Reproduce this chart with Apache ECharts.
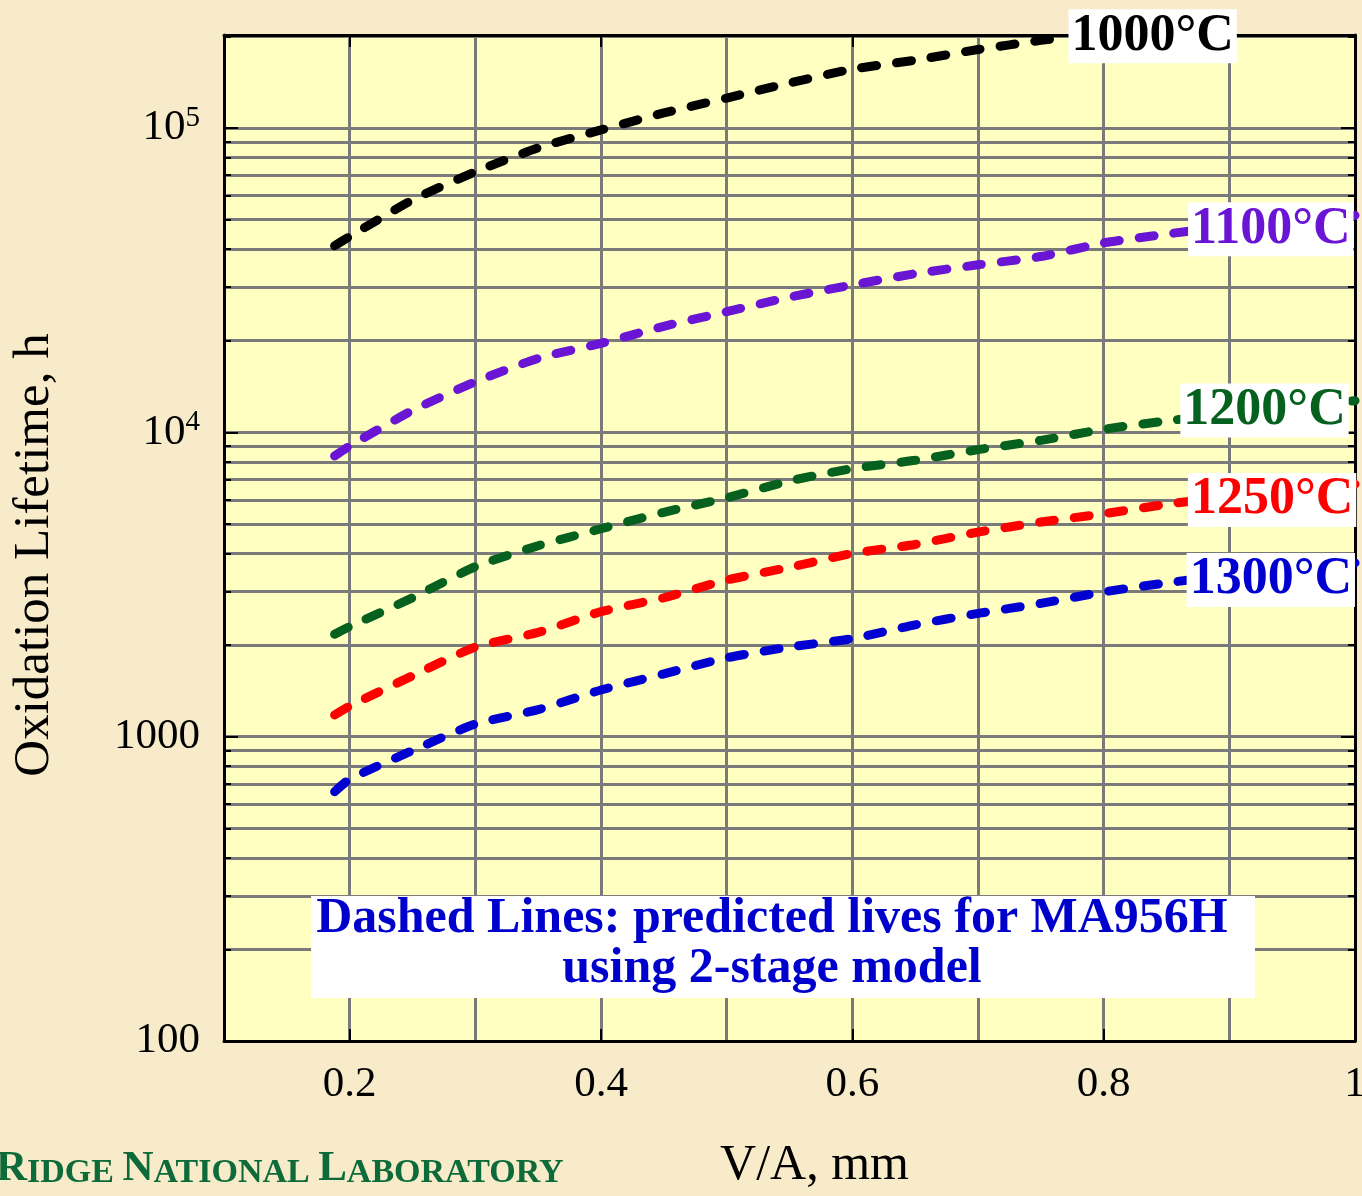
<!DOCTYPE html>
<html>
<head>
<meta charset="utf-8">
<title>Oxidation Lifetime vs V/A</title>
<script src="https://cdn.jsdelivr.net/npm/echarts@6/dist/echarts.min.js"></script>
<style>
  html, body { margin: 0; padding: 0; background: #f8ebca; }
  #chart { width: 1362px; height: 1196px; }
</style>
</head>
<body>
<div id="chart"></div>
<script>
// V/A (mm) positions
var va1000 = [0.188, 0.2, 0.25, 0.3, 0.35, 0.4, 0.45, 0.5, 0.55, 0.6, 0.65, 0.7, 0.75, 0.765];
var vaOther = [0.188, 0.2, 0.25, 0.3, 0.35, 0.4, 0.45, 0.5, 0.55, 0.6, 0.65, 0.7, 0.75, 0.8, 0.85, 0.9, 0.95, 1.0];

// predicted oxidation lifetime, h
var life1000 = [41000, 44000, 58000, 71800, 86000, 98500, 112000, 125400, 140500, 156000, 167000, 181000, 194000, 197500];
var life1100 = [8360, 9020, 11800, 14650, 17500, 19600, 22300, 24900, 27800, 30500, 33200, 35500, 37800, 41900, 44800, 47500, 49800, 51600];
var life1200 = [2170, 2300, 2860, 3620, 4240, 4820, 5460, 6090, 6920, 7600, 8090, 8770, 9410, 10230, 10900, 11500, 12100, 12700];
var life1250 = [1178, 1260, 1585, 1970, 2200, 2575, 2860, 3270, 3600, 4000, 4280, 4700, 5070, 5400, 5800, 6150, 6450, 6750];
var life1300 = [659, 725, 900, 1100, 1227, 1423, 1608, 1816, 1970, 2100, 2330, 2540, 2740, 2990, 3200, 3400, 3560, 3720];

var seriesNames = ['1000°C', '1100°C', '1200°C', '1250°C', '1300°C'];
var xTickLabels = [0.2, 0.4, 0.6, 0.8, 1];

var serif = '"Liberation Serif", "Times New Roman", Times, serif';
var gridGray = '#7a7a7a';

var chart = echarts.init(document.getElementById('chart'));

function pairs(xs, ys) {
    var out = [];
    for (var i = 0; i < xs.length; i++) {
        out.push([xs[i], ys[i]]);
    }
    return out;
}

// one dashed curve plus its boxed temperature label
function curve(name, xs, ys, color, labelAt) {
    return {
        name: name,
        type: 'line',
        data: pairs(xs, ys),
        smooth: 0.2,
        symbol: 'none',
        z: 3,
        lineStyle: { color: color, width: 9, type: [15, 20], cap: 'round' },
        markPoint: {
            symbol: 'rect',
            symbolSize: 1,
            silent: true,
            itemStyle: { color: 'rgba(0,0,0,0)' },
            label: {
                show: true,
                position: 'inside',
                formatter: name,
                color: color,
                fontFamily: serif,
                fontWeight: 'bold',
                fontSize: 52,
                backgroundColor: '#ffffff',
                padding: [2, 3, 0, 3]
            },
            data: [{ coord: labelAt }]
        }
    };
}

var yMin = 100, yMax = 202000;

option = {
    backgroundColor: '#f8ebca',
    animation: false,
    grid: {
        left: 224,
        right: 7,
        top: 35,
        bottom: 155,
        containLabel: false,
        outerBoundsMode: 'none',
        show: true,
        backgroundColor: '#ffffc2',
        borderWidth: 0
    },
    xAxis: [{
            type: 'value',
            min: 0.1,
            max: 1,
            interval: 0.1,
            position: 'bottom',
            axisLine: { show: true, onZero: false, lineStyle: { color: '#000', width: 3 } },
            axisTick: { show: false },
            axisLabel: {
                margin: 22,
                fontSize: 43,
                fontFamily: serif,
                color: '#000',
                formatter: function (v) {
                    var k = Math.round(v * 10);
                    if (k % 2 !== 0) return '';
                    return xTickLabels.indexOf(k / 10) < 0 ? '' : String(k / 10);
                }
            },
            splitLine: {
                show: true,
                showMinLine: false,
                showMaxLine: false,
                lineStyle: { color: gridGray, width: 3 }
            },
            name: 'V/A, mm',
            nameLocation: 'middle',
            nameGap: 100,
            nameTextStyle: { fontSize: 50, fontFamily: serif, color: '#000', padding: [0, 0, 0, 50] }
        },
        {
            type: 'value',
            min: 0.1,
            max: 1,
            position: 'top',
            axisLine: { show: true, onZero: false, lineStyle: { color: '#000', width: 3 } },
            axisTick: { show: true, inside: true, length: 12, customValues: [0.2, 0.4, 0.6, 0.8], lineStyle: { color: '#000', width: 2 } },
            axisLabel: { show: false },
            splitLine: { show: false }
        },
        {
            type: 'value',
            min: 0.1,
            max: 1,
            position: 'bottom',
            axisLine: { show: false, onZero: false },
            axisTick: { show: true, inside: true, length: 12, customValues: [0.2, 0.4, 0.6, 0.8], lineStyle: { color: '#000', width: 2 } },
            axisLabel: { show: false },
            splitLine: { show: false }
        }
    ],
    yAxis: [{
            type: 'log',
            logBase: 10,
            min: yMin,
            max: yMax,
            position: 'left',
            axisLine: { show: true, onZero: false, lineStyle: { color: '#000', width: 3 } },
            axisTick: { show: true, inside: true, length: 14, lineStyle: { color: '#000', width: 2 } },
            minorTick: { show: true, splitNumber: 9, length: 7, lineStyle: { color: '#000', width: 2 } },
            splitLine: { show: true, showMinLine: false, showMaxLine: false, lineStyle: { color: gridGray, width: 3 } },
            minorSplitLine: { show: true, lineStyle: { color: gridGray, width: 3 } },
            axisLabel: {
                margin: 24,
                showMaxLabel: false,
                formatter: function (v) {
                    var e = Math.round(Math.log10(v));
                    if (e >= 4) return '{t|10}{e|' + e + '}';
                    return '{t|' + Math.round(v) + '}';
                },
                rich: {
                    t: { fontSize: 43, fontFamily: serif, color: '#000', lineHeight: 48 },
                    e: { fontSize: 29, fontFamily: serif, color: '#000', verticalAlign: 'top', lineHeight: 48 }
                }
            },
            name: 'Oxidation Lifetime, h',
            nameLocation: 'middle',
            nameGap: 164,
            nameTextStyle: { fontSize: 51, fontFamily: serif, color: '#000', padding: [0, 34, 0, 0] }
        },
        {
            type: 'log',
            logBase: 10,
            min: yMin,
            max: yMax,
            position: 'right',
            axisLine: { show: true, onZero: false, lineStyle: { color: '#000', width: 3 } },
            axisTick: { show: true, inside: true, length: 14, lineStyle: { color: '#000', width: 2 } },
            minorTick: { show: true, splitNumber: 9, length: 7, lineStyle: { color: '#000', width: 2 } },
            axisLabel: { show: false },
            splitLine: { show: false }
        }
    ],
    series: [
        curve(seriesNames[0], va1000, life1000, '#000000', [0.839, 200000]),
        curve(seriesNames[1], vaOther, life1100, '#6a14d4', [0.933, 46500]),
        curve(seriesNames[2], vaOther, life1200, '#06601e', [0.928, 11800]),
        curve(seriesNames[3], vaOther, life1250, '#ff0000', [0.934, 5990]),
        curve(seriesNames[4], vaOther, life1300, '#0000d0', [0.933, 3270])
    ],
    graphic: [{
            type: 'rect',
            z: 100,
            zlevel: 1,
            shape: { x: 311, y: 896, width: 944, height: 102 },
            style: { fill: '#ffffff' }
        },
        {
            type: 'text',
            z: 101,
            zlevel: 1,
            style: {
                x: 772,
                y: 944,
                text: 'Dashed Lines: predicted lives for MA956H\nusing 2-stage model',
                fill: '#0000cc',
                fontFamily: serif,
                fontWeight: 'bold',
                fontSize: 50,
                lineHeight: 50,
                align: 'center',
                verticalAlign: 'middle'
            }
        },
        {
            type: 'text',
            z: 100,
            style: {
                x: -4,
                y: 1145,
                text: '{B|R}{s|IDGE }{B|N}{s|ATIONAL }{B|L}{s|ABORATORY}',
                fill: '#0d6b3a',
                verticalAlign: 'top',
                rich: {
                    B: { fontSize: 43, fontFamily: serif, fontWeight: 'bold', fill: '#0d6b3a', verticalAlign: 'bottom', lineHeight: 45 },
                    s: { fontSize: 34, fontFamily: serif, fontWeight: 'bold', fill: '#0d6b3a', verticalAlign: 'bottom', lineHeight: 45 }
                }
            }
        }
    ]
};

chart.setOption(option);
</script>
</body>
</html>
